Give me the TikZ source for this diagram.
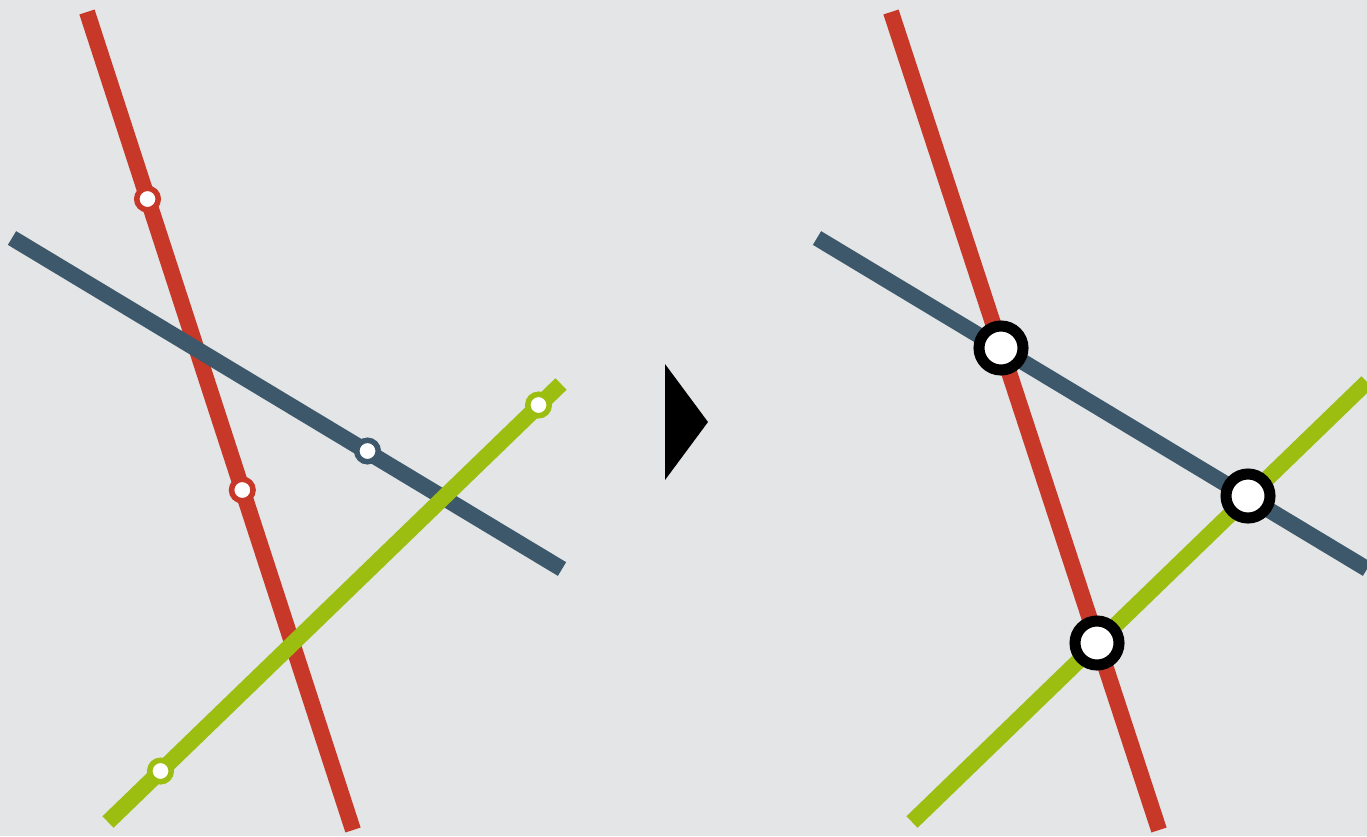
\documentclass[tikz,border=0pt]{standalone}
\definecolor{bg}{RGB}{227,229,231}
\definecolor{lred}{RGB}{200,56,40}
\definecolor{lblue}{RGB}{61,88,106}
\definecolor{lgreen}{RGB}{156,190,16}
\begin{document}
\begin{tikzpicture}[x=0.01cm,y=-0.01cm,
  route/.style={line width=0.16cm},
  stop/.style={circle,fill=white,draw=#1,line width=0.055cm,minimum size=0.215cm,inner sep=0pt},
  hub/.style={circle,fill=white,draw=black,line width=0.11cm,minimum size=0.44cm,inner sep=0pt}]
\fill[bg] (0,0) rectangle (1367,836);
\useasboundingbox (0,0) rectangle (1367,836);
% left panel
\coordinate (r1) at (87,12);   \coordinate (r2) at (353,830);
\coordinate (b1) at (12,238);  \coordinate (b2) at (562,569);
\coordinate (g1) at (108,822); \coordinate (g2) at (561,384);
\draw[route,lred] (r1) -- (r2);
\draw[route,lblue] (b1) -- (b2);
\draw[route,lgreen] (g1) -- (g2);
\node[stop=lred] (sr1) at (147.5,199) {};
\node[stop=lred] (sr2) at (242.3,490) {};
\node[stop=lblue] (sb1) at (367.5,451) {};
\node[stop=lgreen] (sg1) at (538.5,405) {};
\node[stop=lgreen] (sg2) at (160.5,771) {};
% arrow
\fill[black] (665,364) -- (708,422) -- (665,480) -- cycle;
% right panel
\coordinate (R1) at (891,12);   \coordinate (R2) at (1159,830);
\coordinate (B1) at (817,238);  \coordinate (B2) at (1367,569);
\coordinate (G1) at (912,822);  \coordinate (G2) at (1367,382);
\draw[route,lred] (R1) -- (R2);
\draw[route,lblue] (B1) -- (B2);
\draw[route,lgreen] (G1) -- (G2);
\node[hub] (h1) at (1001,348) {};
\node[hub] (h2) at (1248,496) {};
\node[hub] (h3) at (1097,643) {};
\end{tikzpicture}
\end{document}
